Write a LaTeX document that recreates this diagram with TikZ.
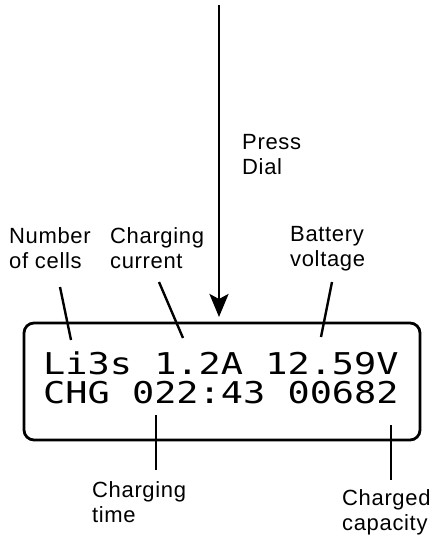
\documentclass[tikz,border=0pt]{standalone}
\usepackage{fontspec}
\setmainfont{Liberation Sans}
\newfontfamily\lcdfont[FakeStretch=1.23]{DejaVu Sans Mono}
\usetikzlibrary{arrows.meta}

\begin{document}
\begin{tikzpicture}[x=1pt,y=-1pt,
    label/.style={align=left,inner sep=0pt,anchor=north west,
        font={\fontsize{22}{25}\selectfont\addfontfeature{LetterSpace=3}}},
    leader/.style={line width=2.4pt},
    lcdtext/.style={align=left,inner sep=0pt,anchor=north west,
        font={\lcdfont\fontsize{30}{29}\selectfont}}]

\useasboundingbox (0,0) rectangle (445,540);

% display
\draw[line width=2.8pt,rounded corners=10pt] (24,323) rectangle (420,440);
\node[lcdtext] (lcd) at (43,352) {Li3s 1.2A 12.59V\\CHG 022:43 00682};

% labels
\node[label] (cells) at (9,227) {Number\\of cells};
\node[label] (current) at (110,227) {Charging\\current};
\node[label] (voltage) at (290,226) {Battery\\voltage};
\node[label] (press) at (242,134) {Press\\Dial};
\node[label] (time) at (92,481) {Charging\\time};
\node[label] (capacity) at (342,489) {Charged\\capacity};

% leader lines
\coordinate (c1) at (60,287);  \coordinate (c2) at (71,340);
\coordinate (i1) at (159,282); \coordinate (i2) at (183,338);
\coordinate (v1) at (332,282); \coordinate (v2) at (321,337);
\coordinate (t1) at (156,415); \coordinate (t2) at (156,470);
\coordinate (q1) at (391,425); \coordinate (q2) at (391,480);
\draw[leader] (c1) -- (c2);
\draw[leader] (i1) -- (i2);
\draw[leader] (v1) -- (v2);
\draw[leader] (t1) -- (t2);
\draw[leader] (q1) -- (q2);

% dial arrow
\coordinate (dial) at (219,5);
\coordinate (tip) at (219,317);
\draw[line width=2.8pt,-{Stealth[length=23pt,width=19pt,inset=5pt]}] (dial) -- (tip);
\end{tikzpicture}
\end{document}
